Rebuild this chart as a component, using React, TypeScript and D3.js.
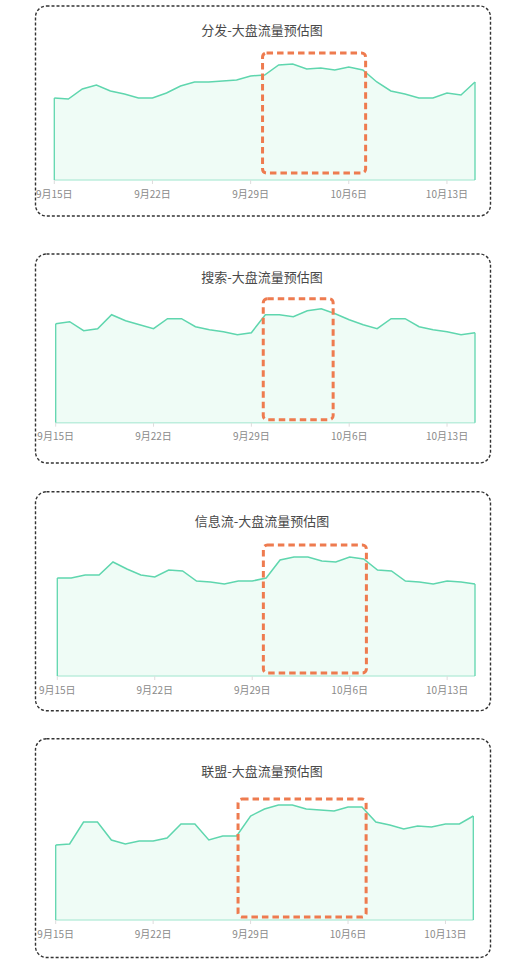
import React from "react";
import * as d3 from "d3";

// dates: 9/15 .. 10/15
const startDate = new Date(2023, 8, 15);
const days = d3.range(31).map((i) => d3.timeDay.offset(startDate, i));
const tickDates = [0, 7, 14, 21, 28].map((i) => days[i]);

const titles = [
  "分发-大盘流量预估图",
  "搜索-大盘流量预估图",
  "信息流-大盘流量预估图",
  "联盟-大盘流量预估图",
];

const fenfa = [
  82, 81, 91, 95, 89, 86, 82, 82, 87, 94, 98, 98, 99, 100, 104, 105, 115, 116,
  111, 112, 110, 113, 110, 98, 89, 86, 82, 82, 87, 85, 98,
];
const sousuo = [
  99, 101, 92, 94, 108, 102, 98, 94, 104, 104, 96, 93, 91, 88, 90, 108, 108,
  106, 112, 114, 109, 103, 98, 94, 104, 104, 96, 93, 91, 88, 90,
];
const xinxiliu = [
  98, 98, 101, 101, 114, 107, 101, 99, 106, 105, 95, 94, 92, 95, 95, 98, 116,
  119, 119, 115, 114, 119, 117, 106, 105, 95, 94, 92, 95, 94, 92,
];
const lianmeng = [
  75, 76, 98, 98, 80, 76, 79, 79, 82, 96, 96, 80, 84, 84, 104, 111, 115, 115,
  111, 110, 109, 113, 113, 98, 95, 91, 94, 93, 96, 96, 104,
];
const series = [fenfa, sousuo, xinxiliu, lianmeng];

// highlighted windows: [start day index, end day index, low value, high value]
const highlights = [
  [14.85, 22.2, 7, 127],
  [14.85, 19.85, 3, 124],
  [14.8, 22.2, 3, 131],
  [13.1, 22.3, 3, 121],
];

// panel frames: border top/bottom, title y, baseline y, plot left/right
const frames = [
  { top: 6, bottom: 216, titleY: 29, base: 180, left: 54.3, right: 475 },
  { top: 254, bottom: 463, titleY: 276, base: 422.7, left: 55.7, right: 475 },
  { top: 491.7, bottom: 710.7, titleY: 520.7, base: 676, left: 57.3, right: 475 },
  { top: 738.7, bottom: 957.5, titleY: 770.7, base: 920, left: 55.7, right: 473.3 },
];

const W = 525,
  H = 959;
const font = "'Noto Sans CJK SC', 'Noto Sans', sans-serif";
const lineColor = "#5fd6ae";
const fillColor = "#effcf6";
const orange = "#ee7b4f";

function Panel({ idx }: { idx: number }) {
  const f = frames[idx];
  const data = series[idx];
  const x = d3.scaleTime().domain([days[0], days[30]]).range([f.left, f.right]);
  const xi = d3.scaleLinear().domain([0, 30]).range([f.left, f.right]);
  const y = d3.scaleLinear().domain([0, 150]).range([f.base, f.base - 150]);

  const area = d3
    .area<number>()
    .x((_, i) => x(days[i]))
    .y0(y(0))
    .y1((d) => y(d));
  const line = d3
    .line<number>()
    .x((_, i) => x(days[i]))
    .y((d) => y(d));

  const [h0, h1, v0, v1] = highlights[idx];
  const fmt = (d: Date) => `${d.getMonth() + 1}月${d.getDate()}日`;

  return (
    <g>
      <rect
        x={35.5}
        y={f.top}
        width={455}
        height={f.bottom - f.top}
        rx={11}
        fill="#fff"
        stroke="#333"
        strokeWidth={1.4}
        strokeDasharray="3 2"
      />
      <text
        x={262}
        y={f.titleY}
        textAnchor="middle"
        dominantBaseline="central"
        fontSize={13}
        fill="#4a4a4a"
        fontFamily={font}
      >
        {titles[idx]}
      </text>
      <path d={area(data) ?? ""} fill={fillColor} />
      <line
        x1={f.left}
        x2={f.right}
        y1={y(0)}
        y2={y(0)}
        stroke="#bdeedd"
        strokeWidth={1.5}
      />
      <line x1={f.left} x2={f.left} y1={y(0)} y2={y(data[0])} stroke={lineColor} strokeWidth={1.3} />
      <line x1={f.right} x2={f.right} y1={y(0)} y2={y(data[30])} stroke={lineColor} strokeWidth={1.3} />
      <path d={line(data) ?? ""} fill="none" stroke={lineColor} strokeWidth={1.5} />
      {tickDates.map((d, i) => (
        <g key={i} transform={`translate(${x(d)},${y(0)})`}>
          <line y1={0} y2={4} stroke="#ddd" strokeWidth={1} />
          <text
            y={13}
            textAnchor="middle"
            dominantBaseline="central"
            fontSize={10}
            fill="#8a8a8a"
            fontFamily={font}
          >
            {fmt(d)}
          </text>
        </g>
      ))}
      <rect
        x={xi(h0)}
        y={y(v1)}
        width={xi(h1) - xi(h0)}
        height={y(v0) - y(v1)}
        rx={4}
        fill="none"
        stroke={orange}
        strokeWidth={3}
        strokeDasharray="6.5 4"
      />
    </g>
  );
}

export default function App(): JSX.Element {
  return (
    <div style={{ position: "absolute", left: 0, top: 0, width: W, height: H, background: "#fff" }}>
      <svg width={W} height={H} style={{ display: "block" }}>
        <rect width={W} height={H} fill="#fff" />
        {titles.map((_, i) => (
          <Panel key={i} idx={i} />
        ))}
      </svg>
    </div>
  );
}
